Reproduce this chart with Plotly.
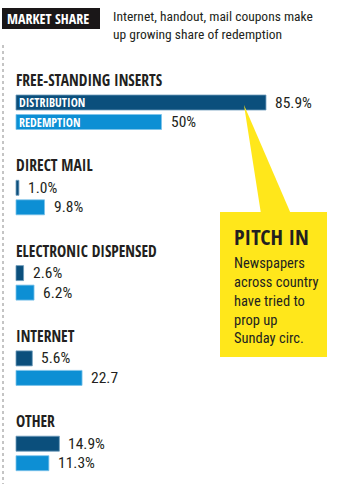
import plotly.graph_objects as go

# Coupon distribution vs. redemption share by channel (percent)
categories = ["FREE-STANDING INSERTS", "DIRECT MAIL", "ELECTRONIC DISPENSED", "INTERNET", "OTHER"]
series_names = ["DISTRIBUTION", "REDEMPTION"]
distribution = [85.9, 1.0, 2.6, 5.6, 14.9]
redemption = [50, 9.8, 6.2, 22.7, 11.3]
distribution_labels = ["85.9%", "1.0%", "2.6%", "5.6%", "14.9%"]
redemption_labels = ["50%", "9.8%", "6.2%", "22.7", "11.3%"]

title_tag = "MARKET SHARE"
subtitle = "Internet, handout, mail coupons make<br>up growing share of redemption"
callout_head = "PITCH IN"
callout_body = "Newspapers<br>across country<br>have tried to<br>prop up<br>Sunday circ."

W, H = 338, 490
X0 = 16             # left edge of bars (px)
PX_PER_UNIT = 2.91  # horizontal scale (px per percentage point)

DARK = "#0b4f7c"
LIGHT = "#0d8fd4"
YELLOW = "#ffe71b"
INK = "#231f20"
HEAVY = "Open Sans Condensed, Roboto Condensed, sans-serif"
NARROW = "Roboto Condensed, Open Sans Condensed, sans-serif"

# vertical layout in pixel units (y axis runs top-down in pixels)
group_top, group_step = 80, 85.3
header_y = [group_top + group_step * i for i in range(len(categories))]
dist_y = [h + 22.5 for h in header_y]
red_y = [h + 42 for h in header_y]
BAR_H = 15


def px(x):
    return x / W


def py(y):
    return 1 - y / H


fig = go.Figure()
fig.add_trace(go.Bar(
    orientation="h", x=distribution, y=dist_y, width=BAR_H,
    marker=dict(color=DARK, line=dict(color="#6f9cbb", width=0.8)),
    name=series_names[0], hoverinfo="skip", showlegend=False,
))
fig.add_trace(go.Bar(
    orientation="h", x=redemption, y=red_y, width=BAR_H,
    marker=dict(color=LIGHT, line=dict(color="#7cc3ea", width=0.8)),
    name=series_names[1], hoverinfo="skip", showlegend=False,
))

ann = []
# channel headers
for cat, hy in zip(categories, header_y):
    ann.append(dict(x=0, y=hy, xref="x", yref="y", text=cat, showarrow=False,
                    xanchor="left", yanchor="middle", xshift=-2,
                    font=dict(family=HEAVY, size=15.5, color=INK, weight="bold")))
# value labels
for vals, labels, ys in ((distribution, distribution_labels, dist_y),
                         (redemption, redemption_labels, red_y)):
    for v, lab, y in zip(vals, labels, ys):
        ann.append(dict(x=v, y=y, xref="x", yref="y", text=lab, showarrow=False,
                        xanchor="left", yanchor="middle", xshift=7,
                        font=dict(family=NARROW, size=15.5, color=INK)))
# series names inside the first pair of bars
for name, y in zip(series_names, (dist_y[0], red_y[0])):
    ann.append(dict(x=0, y=y, xref="x", yref="y", text=name, showarrow=False,
                    xanchor="left", yanchor="middle", xshift=1,
                    font=dict(family=HEAVY, size=12, color="white", weight="bold")))

# header tag and subtitle
ann.append(dict(x=px(5), y=py(18.5), xref="paper", yref="paper", text=title_tag,
                showarrow=False, xanchor="left", yanchor="middle",
                font=dict(family=HEAVY, size=14, color="white", weight="bold")))
ann.append(dict(x=px(111), y=py(6), xref="paper", yref="paper", text=subtitle,
                showarrow=False, xanchor="left", yanchor="top", align="left",
                font=dict(family=NARROW, size=13.5, color=INK)))

# callout text
ann.append(dict(x=px(232), y=py(236), xref="paper", yref="paper", text=callout_head,
                showarrow=False, xanchor="left", yanchor="middle",
                font=dict(family=HEAVY, size=22, color=INK, weight="bold")))
ann.append(dict(x=px(232), y=py(253), xref="paper", yref="paper", text=callout_body,
                showarrow=False, xanchor="left", yanchor="top", align="left",
                font=dict(family=NARROW, size=14.5, color=INK)))

shapes = [
    # dotted margin rule
    dict(type="line", xref="paper", yref="paper", x0=px(3), x1=px(3), y0=py(45), y1=py(484),
         line=dict(color="#8a8a8a", width=1, dash="dot")),
    # black tag box
    dict(type="rect", xref="paper", yref="paper", x0=px(2), x1=px(100), y0=py(8), y1=py(29),
         fillcolor="#1a1718", line=dict(color="#1a1718", width=0)),
    # callout pointer
    dict(type="path", xref="paper", yref="paper",
         path=f"M {px(244)},{py(105)} L {px(261)},{py(214)} L {px(291)},{py(214)} Z",
         fillcolor=YELLOW, line=dict(width=0), layer="above"),
    # callout box
    dict(type="rect", xref="paper", yref="paper", x0=px(220), x1=px(327), y0=py(212), y1=py(357),
         fillcolor=YELLOW, line=dict(width=0), layer="above"),
]

fig.update_layout(
    width=W, height=H,
    margin=dict(l=0, r=0, t=0, b=0),
    paper_bgcolor="white", plot_bgcolor="white",
    barmode="overlay",
    xaxis=dict(range=[-X0 / PX_PER_UNIT, (W - X0) / PX_PER_UNIT], visible=False, fixedrange=True),
    yaxis=dict(range=[H, 0], visible=False, fixedrange=True),
    annotations=ann,
    shapes=shapes,
)

fig.write_html("out.html", config={"displayModeBar": False})
